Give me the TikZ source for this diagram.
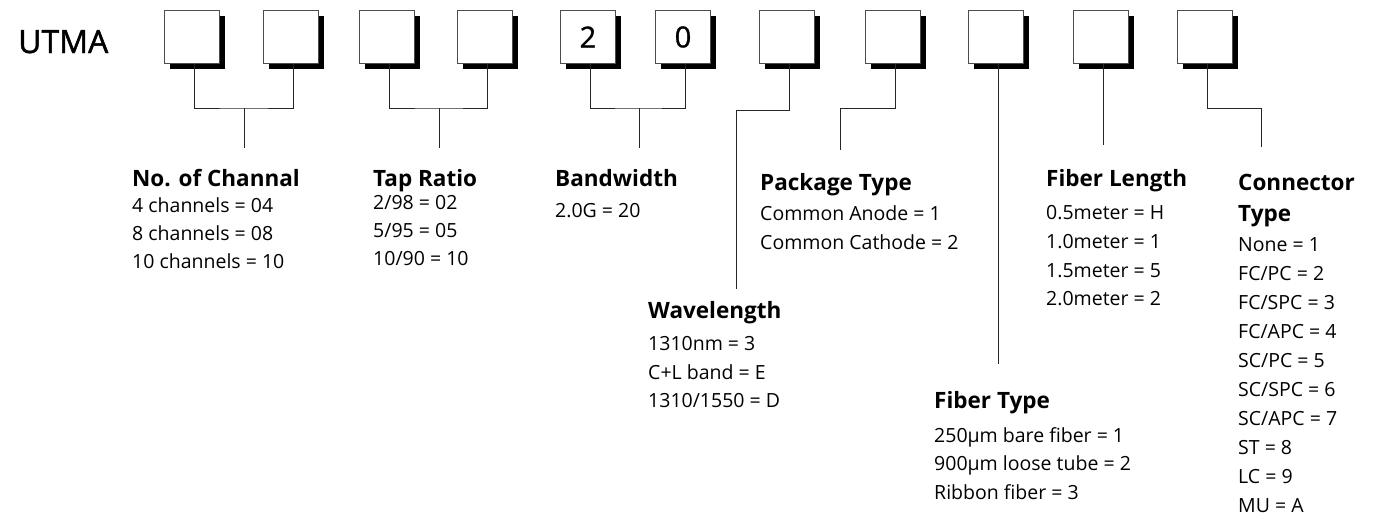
\documentclass[tikz,border=0pt]{standalone}
\usepackage{fontspec}
\setmainfont{Open Sans}
\usetikzlibrary{shadows}

\begin{document}
\begin{tikzpicture}[
                    x=1pt, y=-1pt,
                    digit/.style={draw=black!70, line width=0.8pt, fill=white, rectangle,
                                  minimum width=55pt, minimum height=53pt, inner sep=0pt,
                                  font=\fontsize{29}{29}\selectfont\addfontfeatures{FakeBold=1.2},
                                  drop shadow={shadow xshift=5pt, shadow yshift=-5pt, fill=black, opacity=1}},
                    wire/.style={draw=black!85, line width=0.9pt},
                    head/.style={anchor=base west, inner sep=0pt, font=\bfseries\fontsize{22.5}{22.5}\selectfont},
                    item/.style={anchor=base west, inner sep=0pt, font=\fontsize{19.5}{19.5}\selectfont}
                    ]

    \useasboundingbox (0,0) rectangle (1373,515);

    \node [anchor=base west, inner sep=0pt, font=\fontsize{32}{32}\selectfont\addfontfeatures{FakeBold=1.5}] (code) at (18,53) {UTMA};

    % code boxes
    \node [digit] (b1) at (192,37) {};
    \node [digit] (b2) at (291,37) {};
    \node [digit] (b3) at (387,37) {};
    \node [digit] (b4) at (485,37) {};
    \node [digit] (b5) at (588,37) {2};
    \node [digit] (b6) at (683,37) {0};
    \node [digit] (b7) at (787,37) {};
    \node [digit] (b8) at (893,37) {};
    \node [digit] (b9) at (996,37) {};
    \node [digit] (b10) at (1101,37) {};
    \node [digit] (b11) at (1205,37) {};

    % junctions
    \node [coordinate] (chan) at (244,108) {};
    \node [coordinate] (chanend) at (244,148) {};
    \node [coordinate] (tap) at (439,108) {};
    \node [coordinate] (tapend) at (439,148) {};
    \node [coordinate] (bw) at (639,108) {};
    \node [coordinate] (bwend) at (639,148) {};
    \node [coordinate] (wave) at (736,110) {};
    \node [coordinate] (waveend) at (736,289) {};
    \node [coordinate] (pack) at (840,108) {};
    \node [coordinate] (packend) at (840,150) {};
    \node [coordinate] (conn) at (1261,108) {};
    \node [coordinate] (connend) at (1261,147) {};

    \draw[wire] ([xshift=2.5pt]b1.south) |- (chan) -| ([xshift=2.5pt]b2.south);
    \draw[wire] (chan) -- (chanend);
    \draw[wire] ([xshift=2.5pt]b3.south) |- (tap) -| ([xshift=2.5pt]b4.south);
    \draw[wire] (tap) -- (tapend);
    \draw[wire] ([xshift=2.5pt]b5.south) |- (bw) -| ([xshift=2.5pt]b6.south);
    \draw[wire] (bw) -- (bwend);
    \draw[wire] ([xshift=2.5pt]b7.south) |- (wave) -- (waveend);
    \draw[wire] ([xshift=2.5pt]b8.south) |- (pack) -- (packend);
    \draw[wire] ([xshift=2.5pt]b9.south) -- ++(0,300);
    \draw[wire] ([xshift=2.5pt]b10.south) -- ++(0,81);
    \draw[wire] ([xshift=2.5pt]b11.south) |- (conn) -- (connend);

    % legend blocks
    \node [head] (chanhead) at (132,186) {No. of Channal};
    \node [item] (chan1) at (132,212) {4 channels = 04};
    \node [item] (chan2) at (132,240) {8 channels = 08};
    \node [item] (chan3) at (132,268) {10 channels = 10};

    \node [head] (taphead) at (373,186) {Tap Ratio};
    \node [item] (tap1) at (373,209) {2/98 = 02};
    \node [item] (tap2) at (373,237) {5/95 = 05};
    \node [item] (tap3) at (373,265) {10/90 = 10};

    \node [head] (bwhead) at (555,186) {Bandwidth};
    \node [item] (bw1) at (555,217) {2.0G = 20};

    \node [head] (packhead) at (760,190) {Package Type};
    \node [item] (pack1) at (760,220) {Common Anode = 1};
    \node [item] (pack2) at (760,249) {Common Cathode = 2};

    \node [head] (wavehead) at (648,318) {Wavelength};
    \node [item] (wave1) at (648,350) {1310nm = 3};
    \node [item] (wave2) at (648,379) {C+L band = E};
    \node [item] (wave3) at (648,407) {1310/1550 = D};

    \node [head] (fthead) at (934,408) {Fiber Type};
    \node [item] (ft1) at (934,442) {250µm bare fiber = 1};
    \node [item] (ft2) at (934,470) {900µm loose tube = 2};
    \node [item] (ft3) at (934,499) {Ribbon fiber = 3};

    \node [head] (flhead) at (1046,186) {Fiber Length};
    \node [item] (fl1) at (1046,219) {0.5meter = H};
    \node [item] (fl2) at (1046,248) {1.0meter = 1};
    \node [item] (fl3) at (1046,277) {1.5meter = 5};
    \node [item] (fl4) at (1046,305) {2.0meter = 2};

    \node [head] (conhead) at (1238,190) {Connector};
    \node [head] (conhead2) at (1238,221) {Type};
    \foreach \t [count=\i] in {None = 1, FC/PC = 2, FC/SPC = 3, FC/APC = 4, SC/PC = 5,
                               SC/SPC = 6, SC/APC = 7, ST = 8, LC = 9, MU = A}
        \node [item] (con\i) at (1238,223+28.9*\i) {\t};

\end{tikzpicture}
\end{document}
